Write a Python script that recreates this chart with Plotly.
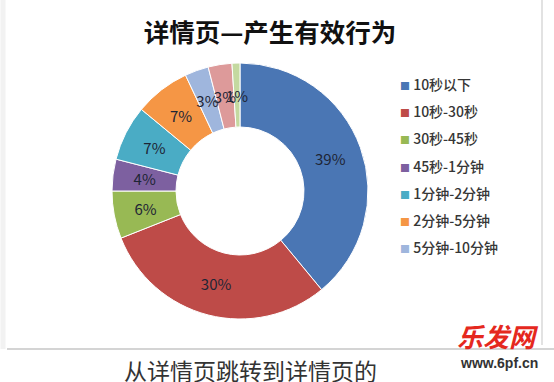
import plotly.graph_objects as go

# ---- data ----
categories = ["10秒以下", "10秒-30秒", "30秒-45秒", "45秒-1分钟", "1分钟-2分钟",
              "2分钟-5分钟", "5分钟-10分钟", "10分钟-30分钟", "30分钟以上"]
values = [39, 30, 6, 4, 7, 7, 3, 3, 1]
legend_count = 7  # only the first 7 categories are visible in the legend
colors = ["#4A76B4", "#BE4B48", "#98B954", "#7D60A0", "#4AACC5",
          "#F59645", "#9FB6DD", "#DD9A9A", "#C4D9A0"]

title_text = "详情页—产生有效行为"
footer_text = "从详情页跳转到详情页的"

W, H = 554, 382
FONT = "Noto Sans CJK SC, Microsoft YaHei, sans-serif"

# donut geometry (pixels)
CX, CY, R_OUT, HOLE = 240, 191, 128, 0.5
R_LABEL = 96          # labels sit on the middle of the ring
LABEL_RING = 0.05     # thin helper ring that carries the labels of narrow slices
BIG = 11              # slices at least this big carry their own label

labels_txt = [f"{v}%" for v in values]
big_txt = [t if v >= BIG else "" for t, v in zip(labels_txt, values)]
small_txt = [t if v < BIG else "" for t, v in zip(labels_txt, values)]


def dom(r):
    return dict(x=[(CX - r) / W, (CX + r) / W], y=[1 - (CY + r) / H, 1 - (CY - r) / H])


fig = go.Figure()

# main donut
fig.add_trace(go.Pie(
    labels=categories,
    values=values,
    hole=HOLE,
    sort=False,
    direction="clockwise",
    rotation=0,
    marker=dict(colors=colors, line=dict(color="white", width=1)),
    text=big_txt,
    textinfo="text",
    textposition="inside",
    insidetextorientation="horizontal",
    textfont=dict(family=FONT, size=15, color="#1E2535"),
    showlegend=False,
    domain=dom(R_OUT),
    hoverinfo="label+percent",
))

# transparent helper ring carrying the labels of narrow slices at mid-ring
r_helper = R_LABEL / (1 - LABEL_RING / 2)
fig.add_trace(go.Pie(
    labels=categories,
    values=values,
    hole=1 - LABEL_RING,
    sort=False,
    direction="clockwise",
    rotation=0,
    marker=dict(colors=["rgba(0,0,0,0)"] * len(values), line=dict(width=0)),
    text=small_txt,
    textinfo="text",
    textposition="inside",
    insidetextorientation="horizontal",
    textfont=dict(family=FONT, size=15, color="#1E2535"),
    showlegend=False,
    domain=dom(r_helper),
    hoverinfo="skip",
))

# legend entries: coloured square glyph + category name
for i in range(legend_count):
    fig.add_trace(go.Scatter(
        x=[None], y=[None], mode="markers",
        name=f"<span style='color:{colors[i]};font-size:10px'>■</span> {categories[i]}",
        legendgroup=f"g{i}",
        marker=dict(symbol="square", size=8, color="rgba(0,0,0,0)"),
        showlegend=True,
    ))

fig.update_layout(
    width=W, height=H,
    margin=dict(l=0, r=0, t=0, b=0),
    paper_bgcolor="white",
    plot_bgcolor="white",
    xaxis=dict(visible=False),
    yaxis=dict(visible=False),
    uniformtext=dict(minsize=15, mode="show"),
    title=dict(text=title_text, x=270 / W, xanchor="center",
               y=1 - 33 / H, yanchor="middle",
               font=dict(family=FONT, size=25.5, color="#111111", weight="bold")),
    legend=dict(
        x=360 / W, xanchor="left",
        y=1 - 69 / H, yanchor="top",
        font=dict(family=FONT, size=14, color="#363636", weight=500),
        tracegroupgap=6,
        itemwidth=30,
        bgcolor="rgba(0,0,0,0)",
    ),
    shapes=[
        dict(type="line", xref="paper", yref="paper", x0=7 / W, x1=1, y0=1 - 349 / H, y1=1 - 349 / H,
             line=dict(color="#D4D4D4", width=2)),
        dict(type="line", xref="paper", yref="paper", x0=542 / W, x1=542 / W, y0=1 - 345 / H, y1=1,
             line=dict(color="#E2E2E2", width=2)),
        dict(type="line", xref="paper", yref="paper", x0=3 / W, x1=3 / W, y0=1 - 349 / H, y1=1,
             line=dict(color="#F2F2F2", width=5)),
    ],
    annotations=[
        dict(text=footer_text, xref="paper", yref="paper", x=122 / W, y=1 - 370 / H,
             xanchor="left", yanchor="middle", showarrow=False,
             font=dict(family=FONT, size=23, color="#333333")),
        dict(text="<i>乐发网</i>", xref="paper", yref="paper", x=498 / W, y=1 - 335 / H,
             xanchor="center", yanchor="middle", showarrow=False,
             font=dict(family=FONT, size=26, color="#E5281E", weight="bold")),
        dict(text="www.6pf.cn", xref="paper", yref="paper", x=499 / W, y=1 - 363 / H,
             xanchor="center", yanchor="middle", showarrow=False,
             font=dict(family="Liberation Sans, Arial, sans-serif", size=14, color="#333333", weight="bold")),
    ],
)

fig.write_html("out.html",
               config={"displayModeBar": False},
               post_script="document.body.style.margin='0';document.body.style.overflow='hidden';")
